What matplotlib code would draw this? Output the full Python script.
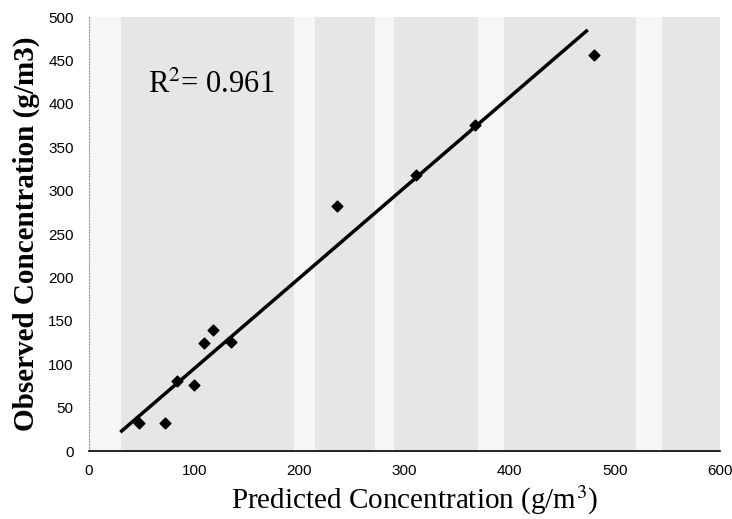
import matplotlib.pyplot as plt

plt.rcParams["mathtext.fontset"] = "stix"

predito = [48, 72, 84, 100, 109, 118, 135, 236, 311, 367, 480]
observado = [32, 32, 81, 76, 125, 139, 126, 282, 318, 376, 456]

# Reta de ajuste (extremos)
reta_x = [31, 473]
reta_y = [23, 484]

r2_texto = r"R$^{2}$= 0.961"

fig = plt.figure(figsize=(7.32, 5.19), dpi=100)
ax = fig.add_axes([0.1216, 0.131, 0.862, 0.836])

# fundo cinza claro do scan, com faixas brancas verticais
ax.set_facecolor("#e6e6e6")
for x0, x1 in [(0, 30), (195, 215), (272, 290), (370, 395), (520, 545)]:
    ax.axvspan(x0, x1, color="#f6f6f6", zorder=0, lw=0)

ax.plot(reta_x, reta_y, color="black", lw=2.5, zorder=2)
ax.scatter(predito, observado, marker="D", s=30, color="black", zorder=3)

ax.text(56, 413, r2_texto, fontsize=22, family="Liberation Serif", va="baseline")

ax.set_xlim(0, 600)
ax.set_ylim(0, 500)
ax.set_xticks(range(0, 601, 100))
ax.set_yticks(range(0, 501, 50))
ax.tick_params(length=0, labelsize=11)
ax.tick_params(axis="y", pad=11)
ax.tick_params(axis="x", pad=9)
for lbl in ax.get_xticklabels() + ax.get_yticklabels():
    lbl.set_family("Liberation Sans")

for lado in ["top", "right"]:
    ax.spines[lado].set_visible(False)
ax.spines["left"].set_color("#9a9a9a")
ax.spines["left"].set_linestyle(":")
ax.spines["bottom"].set_linewidth(1.2)

ax.set_xlabel(r"Predicted Concentration (g/m$^{3}$)", fontsize=21,
              family="Liberation Serif", labelpad=2)
ax.xaxis.set_label_coords(0.516, -0.075)
ax.set_ylabel("Observed Concentration (g/m3)", fontsize=21,
              family="Liberation Serif", fontweight="bold", labelpad=6)

plt.savefig("out.png")
